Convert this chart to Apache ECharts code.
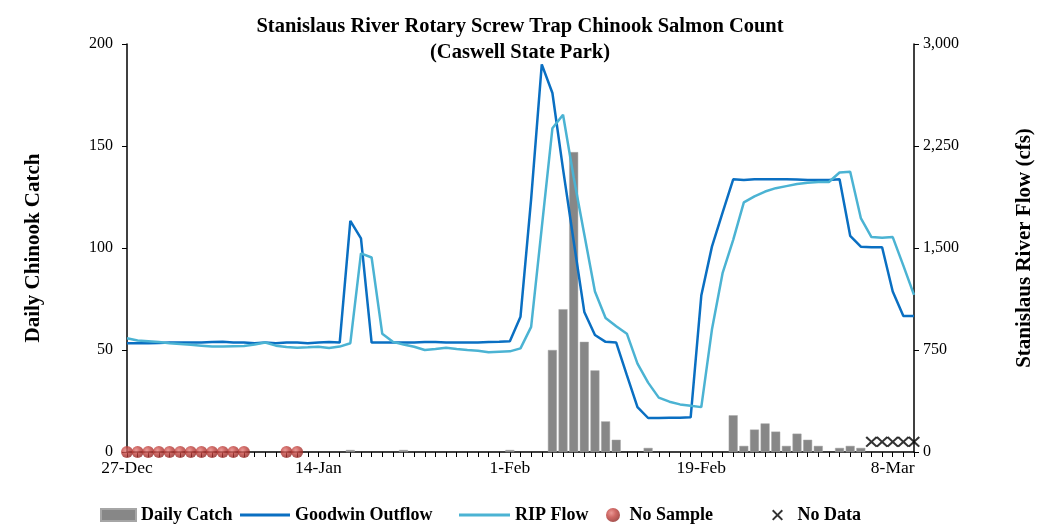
<!DOCTYPE html>
<html><head><meta charset="utf-8">
<script src="https://cdn.jsdelivr.net/npm/echarts@6/dist/echarts.min.js"></script>
<style>html,body{margin:0;padding:0;background:#fff}#c{width:1045px;height:529px}</style>
</head><body><div id="c"></div>
<script>
const dates = ['27-Dec','28-Dec','29-Dec','30-Dec','31-Dec',
'1-Jan','2-Jan','3-Jan','4-Jan','5-Jan','6-Jan','7-Jan','8-Jan','9-Jan','10-Jan','11-Jan','12-Jan','13-Jan','14-Jan','15-Jan','16-Jan','17-Jan','18-Jan','19-Jan','20-Jan','21-Jan','22-Jan','23-Jan','24-Jan','25-Jan','26-Jan','27-Jan','28-Jan','29-Jan','30-Jan','31-Jan',
'1-Feb','2-Feb','3-Feb','4-Feb','5-Feb','6-Feb','7-Feb','8-Feb','9-Feb','10-Feb','11-Feb','12-Feb','13-Feb','14-Feb','15-Feb','16-Feb','17-Feb','18-Feb','19-Feb','20-Feb','21-Feb','22-Feb','23-Feb','24-Feb','25-Feb','26-Feb','27-Feb','28-Feb','29-Feb',
'1-Mar','2-Mar','3-Mar','4-Mar','5-Mar','6-Mar','7-Mar','8-Mar','9-Mar','10-Mar'];

const dailyCatch = [null,null,null,null,null,null,null,null,null,null,null,null,null,null,null,null,null,null,null,null,null,
1,null,null,null,null,1,null,null,null,null,null,null,null,null,null,1,null,null,null,
50,70,147,54,40,15,6,null,null,2,null,null,null,null,null,null,null,
18,3,11,14,10,3,9,6,3,null,2,3,2,null,null,null,null,null];

const goodwinOutflow = [800,800,800,802,805,805,805,805,808,810,805,805,800,805,800,805,805,800,805,808,805,
1700,1570,805,
805,805,805,805,808,808,805,805,805,805,808,810,
815,995,1860,2850,2640,2080,1550,1030,860,810,805,565,330,250,250,252,252,255,
1150,1510,1760,2005,2000,2005,2005,2005,2005,2003,2000,2000,2000,2005,1590,1510,1505,1505,1180,1000,1000];

const ripFlow = [836,820,815,808,800,795,788,782,776,775,778,780,790,805,782,772,767,770,774,765,775,800,
1460,1430,870,810,790,774,750,758,767,758,750,745,733,738,740,762,920,1650,2380,2480,2020,1600,1180,985,925,870,650,510,400,370,350,340,330,
900,1315,1560,1835,1880,1915,1940,1955,1970,1980,1985,1985,2055,2060,1720,1580,1575,1580,1370,1155];

const noSampleDates = ['27-Dec','28-Dec','29-Dec','30-Dec','31-Dec','1-Jan','2-Jan','3-Jan','4-Jan','5-Jan','6-Jan','7-Jan','11-Jan','12-Jan'];
const noSampleValue = 0;
const noDataDates = ['6-Mar','7-Mar','8-Mar','9-Mar','10-Mar'];
const noDataValue = 5;

const leftTicks = {min:0, max:200, interval:50};
const rightTicks = {min:0, max:3000, interval:750};

const FONT = 'Liberation Serif';
const xPath = 'path://M0,1.5 L1.5,0 L6,4.5 L10.5,0 L12,1.5 L7.5,6 L12,10.5 L10.5,12 L6,7.5 L1.5,12 L0,10.5 L4.5,6 Z';
const legendText = {fontFamily:FONT, fontWeight:'bold', fontSize:18, color:'#000'};
const DARK = '#0a6fc2', LIGHT = '#4bb3d3';

const chart = echarts.init(document.getElementById('c'), null, {renderer:'canvas'});
chart.setOption({
  animation:false,
  backgroundColor:'#fff',
  title:{
    text:'Stanislaus River Rotary Screw Trap Chinook Salmon Count\n(Caswell State Park)',
    left:515, top:9, textAlign:'center',
    textStyle:{fontFamily:FONT, fontWeight:'bold', fontSize:20.5, lineHeight:26, color:'#000'}
  },
  grid:{left:127, right:131, top:44, bottom:77, containLabel:false},
  legend:[
    {data:['Daily Catch'], left:100, top:506, padding:0, itemWidth:35, itemHeight:12, icon:'rect', textStyle:legendText},
    {data:['Goodwin Outflow'], left:240, top:506, padding:0, itemWidth:50, itemHeight:3, icon:'rect', textStyle:legendText},
    {data:['RIP Flow'], left:459, top:506, padding:0, itemWidth:51, itemHeight:3, icon:'rect', textStyle:legendText},
    {data:['No Sample'], left:606, top:506, padding:0, itemWidth:14, itemHeight:14, icon:'circle', textStyle:legendText,
     formatter:function(n){return ' ' + n;}},
    {data:['No Data'], left:772, top:506, padding:0, itemWidth:12, itemHeight:11, textStyle:legendText,
     formatter:function(n){return '  ' + n;}}
  ],
  xAxis:{
    type:'category', data:dates, boundaryGap:false,
    axisLine:{lineStyle:{color:'#000', width:1.5}},
    axisTick:{show:true, interval:0, length:5, lineStyle:{color:'#000'}},
    axisLabel:{interval:17, margin:7, fontFamily:FONT, fontSize:17.5, color:'#000'},
    splitLine:{show:false}
  },
  yAxis:[
    {type:'value', min:leftTicks.min, max:leftTicks.max, interval:leftTicks.interval,
     name:'Daily Chinook Catch', nameLocation:'middle', nameGap:83, nameRotate:90,
     nameTextStyle:{fontFamily:FONT, fontWeight:'bold', fontSize:21, color:'#000'},
     axisLine:{show:true, lineStyle:{color:'#000', width:1.5}},
     axisTick:{show:true, length:5, lineStyle:{color:'#000'}},
     axisLabel:{margin:14, fontFamily:FONT, fontSize:16, color:'#000'},
     splitLine:{show:false}},
    {type:'value', min:rightTicks.min, max:rightTicks.max, interval:rightTicks.interval, position:'right',
     name:'Stanislaus River Flow (cfs)', nameLocation:'middle', nameGap:100, nameRotate:90,
     nameTextStyle:{fontFamily:FONT, fontWeight:'bold', fontSize:21, color:'#000'},
     axisLine:{show:true, lineStyle:{color:'#000', width:1.5}},
     axisTick:{show:true, length:5, lineStyle:{color:'#000'}},
     axisLabel:{margin:9, fontFamily:FONT, fontSize:16, color:'#000',
       formatter:function(v){return v.toLocaleString('en-US');}},
     splitLine:{show:false}}
  ],
  series:[
    {name:'Daily Catch', type:'bar', yAxisIndex:0, data:dailyCatch, barWidth:9,
     itemStyle:{color:'#878787', borderColor:'#a6a6a6', borderWidth:0.5}},
    {name:'Goodwin Outflow', type:'line', yAxisIndex:1, data:goodwinOutflow, symbol:'none',
     lineStyle:{color:DARK, width:2.5}, itemStyle:{color:DARK}},
    {name:'RIP Flow', type:'line', yAxisIndex:1, data:ripFlow, symbol:'none',
     lineStyle:{color:LIGHT, width:2.5}, itemStyle:{color:LIGHT}},
    {name:'No Sample', type:'scatter', yAxisIndex:0, clip:false, symbol:'circle', symbolSize:12, z:5,
     data:noSampleDates.map(d=>[d, noSampleValue]),
     itemStyle:{color:{type:'radial', x:0.38, y:0.35, r:0.7,
       colorStops:[{offset:0,color:'#e5807c'},{offset:0.45,color:'#c3433f'},{offset:1,color:'#8c2421'}]}}},
    {name:'No Data', type:'scatter', yAxisIndex:0, clip:false, symbol:xPath, symbolSize:[12,11], z:5,
     data:noDataDates.map(d=>[d, noDataValue]),
     itemStyle:{color:'#000'}}
  ]
});
</script></body></html>
